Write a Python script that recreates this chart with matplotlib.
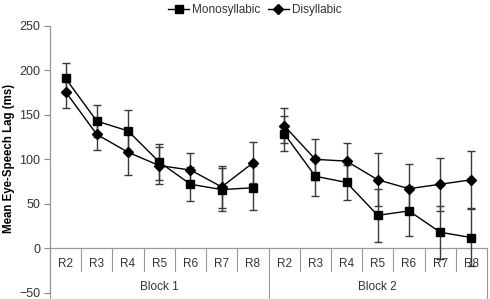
import matplotlib
matplotlib.use("Agg")
import matplotlib.pyplot as plt
import numpy as np

plt.rcParams['font.family'] = ['Liberation Sans', 'DejaVu Sans']

categories = ["R2", "R3", "R4", "R5", "R6", "R7", "R8"]
blocks = ["Block 1", "Block 2"]
mono_b1 = [191, 143, 132, 97, 72, 66, 68]
mono_b1_err = [17, 18, 24, 20, 19, 24, 25]
dis_b1 = [176, 128, 108, 93, 88, 69, 96]
dis_b1_err = [18, 18, 26, 21, 19, 24, 23]
mono_b2 = [129, 81, 74, 37, 42, 18, 12]
mono_b2_err = [20, 22, 20, 30, 28, 30, 32]
dis_b2 = [138, 100, 98, 77, 67, 72, 77]
dis_b2_err = [20, 23, 20, 30, 28, 30, 32]
yticks = [-50, 0, 50, 100, 150, 200, 250]

W, H = 490, 299
fig = plt.figure(figsize=(W / 100, H / 100), dpi=100)
ax = fig.add_axes([50 / W, (H - 292.7) / H, (487 - 50) / W, (292.7 - 26) / H])

n = len(categories)
mono = [mono_b1, mono_b2]
mono_err = [mono_b1_err, mono_b2_err]
dis = [dis_b1, dis_b2]
dis_err = [dis_b1_err, dis_b2_err]
errc = '#3a3a3a'
for b in range(len(blocks)):
    x = np.arange(n) + b * n
    ax.errorbar(x, dis[b], yerr=dis_err[b], fmt='none', ecolor=errc, elinewidth=1.0,
                capsize=3, capthick=1.0, zorder=2, clip_on=False)
    ax.errorbar(x, mono[b], yerr=mono_err[b], fmt='none', ecolor=errc, elinewidth=1.0,
                capsize=3, capthick=1.0, zorder=2, clip_on=False)
    ax.plot(x, mono[b], color='black', lw=1.0, marker='s', ms=5.8, zorder=3,
            label='Monosyllabic' if b == 0 else None, clip_on=False)
    ax.plot(x, dis[b], color='black', lw=1.0, marker='D', ms=4.6, zorder=3,
            label='Disyllabic' if b == 0 else None, clip_on=False)

ax.set_xlim(-0.5, 2 * n - 0.5)
ax.set_ylim(-50, 250)
ax.set_yticks(yticks)
ax.tick_params(axis='y', length=4, width=0.8, color='#888888', labelsize=9, labelcolor='#333333', pad=3)
ax.set_xticks([])
for s in ['top', 'right', 'bottom']:
    ax.spines[s].set_visible(False)
ax.spines['left'].set_color('#999999')
ax.spines['left'].set_linewidth(0.9)

axcol = '#999999'
ax.axhline(0, color=axcol, lw=0.9, zorder=1)
# category separators
for k in range(1, 2 * n):
    if k % n == 0:
        continue
    ax.plot([k - 0.5, k - 0.5], [0, -26], color=axcol, lw=0.8, clip_on=False, zorder=1)
for k in range(0, 2 * n + 1, n):
    ax.plot([k - 0.5, k - 0.5], [0, -58], color=axcol, lw=0.8, clip_on=False, zorder=1)
for b in range(len(blocks)):
    for i, c in enumerate(categories):
        ax.text(i + b * n, -17.5, c, ha='center', va='center', fontsize=8.5, color='#333333')
    ax.text(b * n + (n - 1) / 2, -44, blocks[b], ha='center', va='center', fontsize=8.5, color='#333333')

ax.set_ylabel('Mean Eye-Speech Lag (ms)', fontsize=8.3, fontweight='bold')
ax.yaxis.set_label_coords(-0.079, 0.505)

leg = fig.legend(loc='center', bbox_to_anchor=(0.52, (H - 10) / H), ncol=2, frameon=False,
                 fontsize=8.5, handlelength=1.8, columnspacing=0.6, handletextpad=0.25)
for t in leg.get_texts():
    t.set_color('#333333')

fig.savefig('out.png', dpi=100)
